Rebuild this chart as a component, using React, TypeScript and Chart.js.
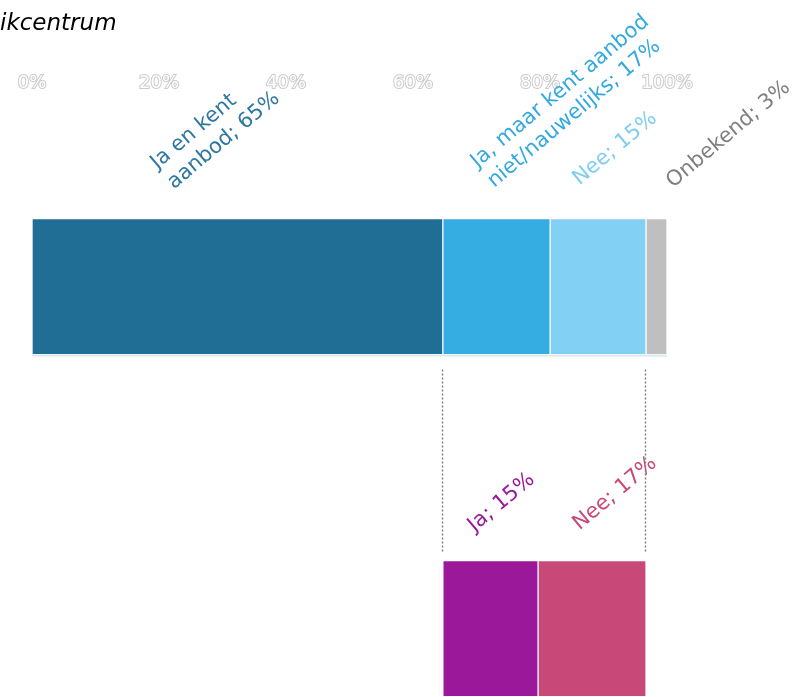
import React, { useEffect, useRef } from 'react';
import { Chart, registerables } from 'chart.js';

Chart.register(...registerables);

// ---- data ----
const titleText = 'ikcentrum';
const xTickValues = [0, 20, 40, 60, 80, 100];

const awarenessNames = ['Ja en kent aanbod', 'Ja, maar kent aanbod niet/nauwelijks', 'Nee', 'Onbekend'];
const awarenessValues = [64.7, 16.9, 15.1, 3.3];
const awarenessLabelLines = [
  ['Ja en kent', 'aanbod; 65%'],
  ['Ja, maar kent aanbod', 'niet/nauwelijks; 17%'],
  ['Nee; 15%'],
  ['Onbekend; 3%'],
];

const followNames = ['Ja', 'Nee'];
const followValues = [15, 17];
const followLabelLines = [['Ja; 15%'], ['Nee; 17%']];

// ---- styles ----
const awarenessColors = ['#206e96', '#35ade3', '#83d0f5', '#bfbfbf'];
const awarenessLabelColors = ['#2d77a0', '#33a9e0', '#7fcdf2', '#7f7f7f'];
const followColors = ['#9b189b', '#c84877'];
const followLabelColors = ['#9b189b', '#c84877'];
const awarenessLabelOffsets = [[-22, -88], [72, -117], [17, -70], [72, -84]];
const followLabelOffsets = [[11, -58], [23, -67]];

const FONT = '"DejaVu Sans", Verdana, sans-serif';
const LABEL_SIZE = 21;
const LABEL_LINE = 26;

const labelPlugin = {
  id: 'rotLabels',
  afterDatasetsDraw(chart: any) {
    const ctx = chart.ctx;
    chart.data.datasets.forEach((ds: any, i: number) => {
      const lines: string[] | undefined = ds.labelLines;
      if (!lines) return;
      const el = chart.getDatasetMeta(i).data[0];
      if (!el) return;
      const { x, y, base, height } = el.getProps(['x', 'y', 'base', 'height'], true);
      const cx = (x + base) / 2 + ds.labelOffset[0];
      const cy = y - height / 2 + ds.labelOffset[1];
      ctx.save();
      ctx.translate(cx, cy);
      ctx.rotate((-40 * Math.PI) / 180);
      ctx.font = `${LABEL_SIZE}px ${FONT}`;
      ctx.fillStyle = ds.labelColor;
      ctx.textBaseline = 'middle';
      ctx.textAlign = 'left';
      const maxW = Math.max(...lines.map((t) => ctx.measureText(t).width));
      lines.forEach((t, k) => {
        ctx.fillText(t, -maxW / 2, (k - (lines.length - 1) / 2) * LABEL_LINE);
      });
      ctx.restore();
    });
  },
};

const seriesLinesPlugin = {
  id: 'seriesLines',
  beforeDatasetsDraw(chart: any) {
    // faint shadow line under the bars
    const ctx = chart.ctx;
    ctx.save();
    ctx.fillStyle = 'rgba(190,215,230,0.55)';
    chart.data.datasets.forEach((ds: any, i: number) => {
      if (!ds.labelLines) return;
      const el = chart.getDatasetMeta(i).data[0];
      if (!el) return;
      const { x, y, base, height } = el.getProps(['x', 'y', 'base', 'height'], true);
      ctx.fillRect(Math.min(x, base), y + height / 2, Math.abs(x - base), 2);
    });
    ctx.restore();
  },
  afterDatasetsDraw(chart: any) {
    const ctx = chart.ctx;
    const xs = chart.scales.x;
    const topMeta = chart.getDatasetMeta(0).data[0];
    const botMeta = chart.getDatasetMeta(awarenessValues.length + 1).data[0];
    if (!topMeta || !botMeta) return;
    const tp = topMeta.getProps(['y', 'height'], true);
    const bp = botMeta.getProps(['y', 'height'], true);
    const y1 = tp.y + tp.height / 2 + 15;
    const y2 = bp.y - bp.height / 2 - 8;
    const start = awarenessValues[0];
    const end = start + followValues.reduce((a, b) => a + b, 0);
    ctx.save();
    ctx.strokeStyle = '#7f7f7f';
    ctx.lineWidth = 1.5;
    ctx.setLineDash([2, 2]);
    [start, end].forEach((v) => {
      const px = Math.round(xs.getPixelForValue(v)) - 0.5;
      ctx.beginPath();
      ctx.moveTo(px, y1);
      ctx.lineTo(px, y2);
      ctx.stroke();
    });
    ctx.restore();
  },
};

export default function App() {
  const canvasRef = useRef<HTMLCanvasElement | null>(null);

  useEffect(() => {
    if (!canvasRef.current) return;
    const datasets: any[] = [];
    const border = { borderWidth: 1, borderColor: 'rgba(255,255,255,0.12)', borderSkipped: false };
    awarenessValues.forEach((v, i) => {
      datasets.push({
        label: awarenessNames[i],
        data: [{ x: v, y: 0 }],
        backgroundColor: awarenessColors[i],
        ...border,
        barThickness: 136,
        labelLines: awarenessLabelLines[i],
        labelColor: awarenessLabelColors[i],
        labelOffset: awarenessLabelOffsets[i],
      });
    });
    datasets.push({
      label: 'offset',
      data: [{ x: awarenessValues[0], y: 1 }],
      backgroundColor: 'rgba(0,0,0,0)',
      borderWidth: 0,
      barThickness: 136,
    });
    followValues.forEach((v, i) => {
      datasets.push({
        label: followNames[i],
        data: [{ x: v, y: 1 }],
        backgroundColor: followColors[i],
        ...border,
        barThickness: 136,
        labelLines: followLabelLines[i],
        labelColor: followLabelColors[i],
        labelOffset: followLabelOffsets[i],
      });
    });

    const chart = new Chart(canvasRef.current, {
      type: 'bar',
      data: { datasets },
      options: {
        indexAxis: 'y',
        animation: false,
        responsive: true,
        maintainAspectRatio: false,
        events: [],
        layout: { padding: { left: 32, right: 131, top: 70, bottom: 0 } },
        plugins: { legend: { display: false }, tooltip: { enabled: false }, title: { display: false } },
        scales: {
          x: {
            type: 'linear',
            position: 'top',
            stacked: true,
            min: 0,
            max: 100,
            offset: false,
            afterBuildTicks: (scale: any) => {
              scale.ticks = xTickValues.map((v) => ({ value: v }));
            },
            grid: { display: false, drawTicks: true, tickLength: 18 },
            border: { display: false },
            ticks: {
              padding: 3,
              color: '#ffffff',
              textStrokeColor: '#cccccc',
              textStrokeWidth: 2,
              font: { family: FONT, size: 18 },
              callback: (v: any) => `${v}%`,
              maxRotation: 0,
              autoSkip: false,
            } as any,
          },
          y: {
            type: 'linear',
            stacked: true,
            reverse: true,
            offset: false,
            min: -0.5,
            max: 1.2,
            display: false,
            grid: { offset: false },
          },
        },
      } as any,
      plugins: [labelPlugin, seriesLinesPlugin],
    });
    return () => chart.destroy();
  }, []);

  return (
    <div style={{ position: 'fixed', left: 0, top: 0, width: 798, height: 697, background: '#fff', overflow: 'hidden' }}>
      <div
        style={{
          position: 'absolute',
          left: 0,
          top: 9,
          fontFamily: FONT,
          fontStyle: 'italic',
          fontSize: 23,
          lineHeight: 1.2,
          color: '#000',
          whiteSpace: 'nowrap',
        }}
      >
        {titleText}
      </div>
      <canvas ref={canvasRef} />
    </div>
  );
}
